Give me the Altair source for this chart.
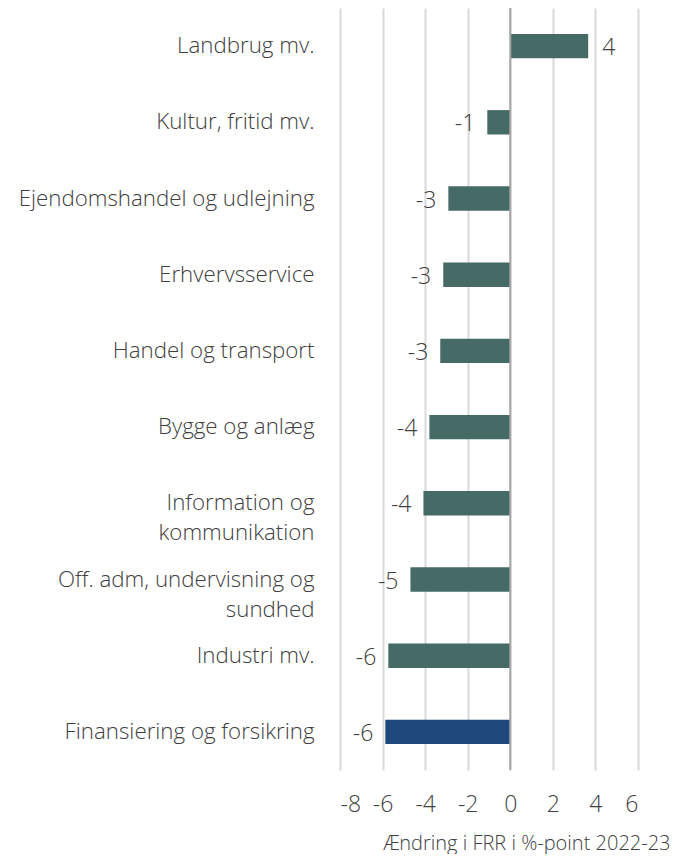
import altair as alt
import pandas as pd

categories = [
    "Landbrug mv.",
    "Kultur, fritid mv.",
    "Ejendomshandel og udlejning",
    "Erhvervsservice",
    "Handel og transport",
    "Bygge og anlæg",
    "Information og|kommunikation",
    "Off. adm, undervisning og|sundhed",
    "Industri mv.",
    "Finansiering og forsikring",
]
values = [3.66, -1.08, -2.91, -3.15, -3.29, -3.8, -4.08, -4.69, -5.73, -5.87]
highlight = [False] * 9 + [True]
x_ticks = [-8, -6, -4, -2, 0, 2, 4, 6]

df = pd.DataFrame({
    "cat": categories,
    "val": values,
    "hl": ["Finans" if h else "Andre" for h in highlight],
    "lab": [str(round(v)) for v in values],
})
df["pos"] = df["val"] >= 0

FONT = "Open Sans"
TXT = "#404040"

y_enc = alt.Y(
    "cat:N",
    sort=categories,
    scale=alt.Scale(paddingInner=0.68, paddingOuter=0.34),
    axis=alt.Axis(
        title=None, ticks=False, domain=False, labelFontSize=22.3,
        labelFont=FONT, labelFontWeight=300, labelColor=TXT, labelPadding=26,
        labelExpr="split(datum.label, '|')", labelLineHeight=30, labelLimit=340,
    ),
)
x_scale = alt.Scale(domain=[-8, 6], nice=False)

bars = alt.Chart(df).mark_bar().encode(
    x=alt.X(
        "val:Q", scale=x_scale,
        axis=alt.Axis(
            values=x_ticks, title="Ændring i FRR i %-point 2022-23",
            titleFont=FONT, titleFontWeight=300, titleFontSize=20, titleColor=TXT,
            titleAlign="right", titleAnchor="end", titleX=330, titleY=79,
            titleBaseline="alphabetic",
            labelExpr="'' + datum.value",
            labelFont=FONT, labelFontWeight=300, labelFontSize=23, labelColor=TXT,
            labelPadding=23, ticks=False, domain=False,
            grid=True, gridColor="#d9d9d9", gridWidth=2,
        ),
    ),
    x2=alt.datum(0),
    y=y_enc,
    color=alt.Color("hl:N", scale=alt.Scale(domain=["Andre", "Finans"], range=["#466b66", "#1f497d"]), legend=None),
)

zero = alt.Chart(pd.DataFrame({"z": [0]})).mark_rule(color="#a6a6a6", strokeWidth=2).encode(
    x=alt.X("z:Q", scale=x_scale)
)

lab_pos = alt.Chart(df[df["pos"]]).mark_text(
    align="left", baseline="middle", dx=14, dy=2, fontSize=23, font=FONT, fontWeight=300, color=TXT
).encode(x=alt.X("val:Q", scale=x_scale), y=y_enc, text="lab:N")

lab_neg = alt.Chart(df[~df["pos"]]).mark_text(
    align="right", baseline="middle", dx=-12, dy=2, fontSize=23, font=FONT, fontWeight=300, color=TXT
).encode(x=alt.X("val:Q", scale=x_scale), y=y_enc, text="lab:N")

chart = alt.layer(bars, zero, lab_pos, lab_neg).properties(
    width=298, height=762,
    autosize=alt.AutoSizeParams(type="none"),
    padding={"left": 332, "top": 0, "right": 32, "bottom": 84},
).configure_view(stroke=None)

chart.save("out.html", embed_options={"renderer": "svg", "actions": False})
